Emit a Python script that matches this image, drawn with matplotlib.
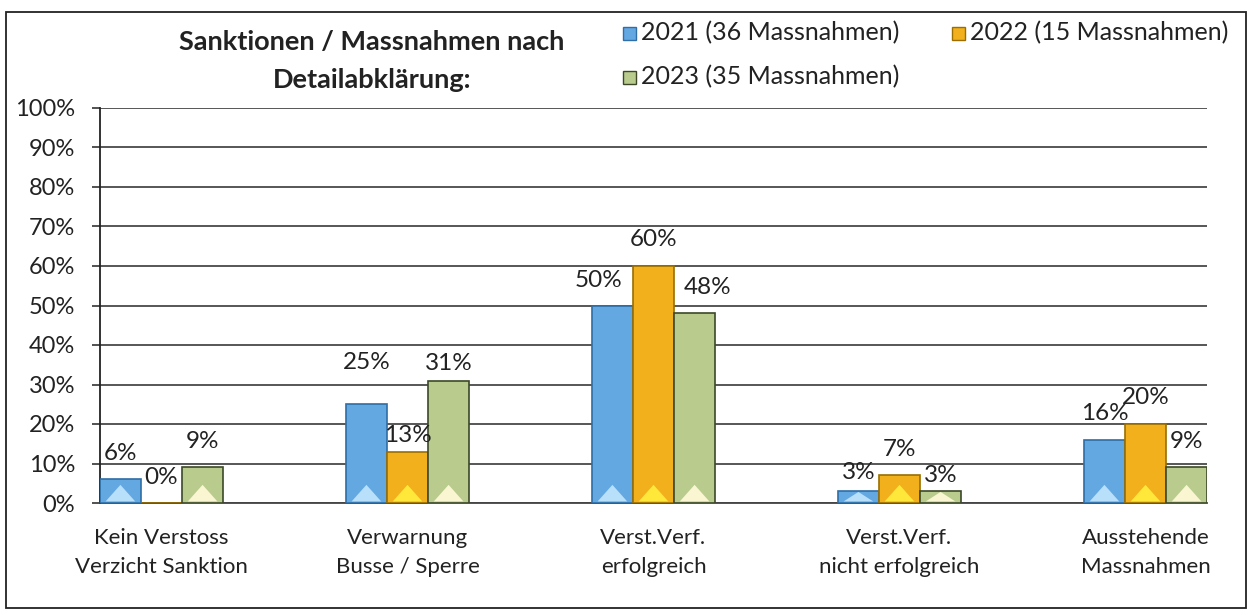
import numpy as np
import matplotlib.pyplot as plt
import matplotlib.transforms as mtransforms
from matplotlib.patches import Rectangle, Polygon

plt.rcParams['font.family'] = ['Lato', 'DejaVu Sans']

categories = ['Kein Verstoss\nVerzicht Sanktion', 'Verwarnung\nBusse / Sperre',
              'Verst.Verf.\nerfolgreich', 'Verst.Verf.\nnicht erfolgreich',
              'Ausstehende\nMassnahmen']
series = ['2021 (36 Massnahmen)', '2022 (15 Massnahmen)', '2023 (35 Massnahmen)']
v2021 = [6, 25, 50, 3, 16]
v2022 = [0, 13, 60, 7, 20]
v2023 = [9, 31, 48, 3, 9]
values = [v2021, v2022, v2023]

fills = ['#64a8e2', '#f2b01c', '#b9cc8e']
edges = ['#2f6ea6', '#9a6e00', '#3c4828']
lights = ['#b8e0fa', '#ffe83a', '#fbf6d2']

# label placement (pixels): default height above bar top, plus a few hand moved labels
label_dy = 26
label_nudge = {(1, 0): (0, 42), (1, 1): (0, 16), (1, 2): (0, 17),
               (2, 0): (-14, 25), (2, 2): (13, 26), (3, 0): (0, 19), (3, 2): (0, 16)}

W, H = 1253, 615
fig = plt.figure(figsize=(W / 100, H / 100), dpi=100)
fig.patch.set_facecolor('white')

# outer frame
fig.add_artist(Rectangle((6 / W, 1 - 608 / H), 1240 / W, 596 / H, transform=fig.transFigure,
                         fill=False, edgecolor='#222222', lw=1.3))

ax = fig.add_axes([100 / W, 1 - 503 / H, 1107 / W, 395 / H])

x = np.arange(len(categories))
bw = 0.167
px = 0.72  # points per pixel at dpi 100
for i, vals in enumerate(values):
    xs = x + (i - 1) * bw
    ax.bar(xs, vals, bw, color=fills[i], edgecolor=edges[i], lw=1.2, zorder=3)
    for c, (xi, v) in enumerate(zip(xs, vals)):
        # bevel highlight at the bottom of the bar
        th = min(v * 0.8, 4.2)
        if v > 0:
            ax.add_patch(Polygon([(xi - bw * 0.36, 0.4), (xi + bw * 0.36, 0.4), (xi, 0.4 + th)],
                                 closed=True, color=lights[i], lw=0, zorder=4))
        dx, dy = label_nudge.get((c, i), (0, label_dy))
        ax.annotate(f'{v}%', (xi, v), xytext=(dx * px, dy * px), textcoords='offset points',
                    ha='center', va='center', fontsize=17.5, color='#222222', zorder=5)

ax.set_xlim(-0.25, 4.25)
ax.set_ylim(0, 100)
ax.set_yticks(np.arange(0, 101, 10))
ax.set_yticklabels([f'{t}%' for t in range(0, 101, 10)], fontsize=17, color='#222222')
ax.set_xticks(x)
ax.set_xticklabels(categories, fontsize=16, color='#222222', linespacing=1.55)
shift = mtransforms.ScaledTranslation(5 / 100, 0, fig.dpi_scale_trans)
for lab in ax.get_xticklabels():
    lab.set_transform(lab.get_transform() + shift)
ax.tick_params(axis='y', length=6, width=1.2, pad=12, color='#333333')
ax.tick_params(axis='x', length=0, pad=18)
ax.grid(axis='y', color='#3a3a3a', lw=1.2, zorder=0)
for s in ['top', 'right']:
    ax.spines[s].set_visible(False)
ax.spines['left'].set_color('#222222')
ax.spines['bottom'].set_color('#444444')
ax.spines['left'].set_linewidth(1.3)
ax.spines['bottom'].set_linewidth(1.3)

fig.text(372 / W, 1 - 42 / H, 'Sanktionen / Massnahmen nach', ha='center', va='center',
         fontsize=19.5, fontweight='bold', color='#222222')
fig.text(372 / W, 1 - 80 / H, 'Detailabklärung:', ha='center', va='center',
         fontsize=19.5, fontweight='bold', color='#222222')

# legend
leg_pos = [(623, 33), (952, 33), (623, 77)]
for (lx, ly), name, fc, ec in zip(leg_pos, series, fills, edges):
    fig.add_artist(Rectangle((lx / W, 1 - (ly + 7) / H), 13 / W, 13 / H, transform=fig.transFigure,
                             facecolor=fc, edgecolor=ec, lw=1))
    fig.text((lx + 18) / W, 1 - ly / H, name, ha='left', va='center', fontsize=18, color='#222222')

fig.savefig('out.png', dpi=100)
